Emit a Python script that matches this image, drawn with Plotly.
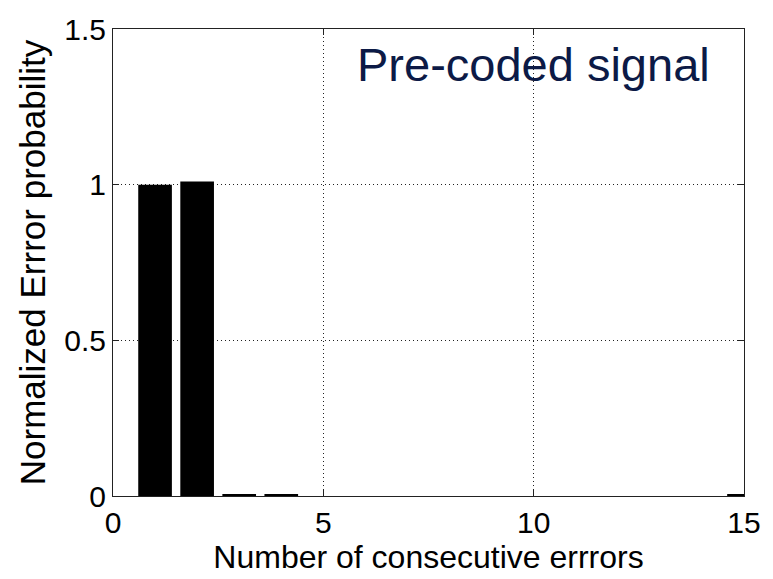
import plotly.graph_objects as go

# Data
run_length = list(range(1, 16))
norm_error_prob = [1.0, 1.01, 0.006, 0.006, 0, 0, 0, 0, 0, 0, 0, 0, 0, 0, 0.006]
x_ticks = [0, 5, 10, 15]
y_ticks = [0, 0.5, 1, 1.5]
x_title = "Number of consecutive errrors"
y_title = "Normalized Errror probability"
label_text = "Pre-coded signal"

FONT = "Liberation Sans, Arial, sans-serif"

fig = go.Figure()
fig.add_trace(go.Bar(
    x=run_length, y=norm_error_prob, width=0.8,
    marker=dict(color="black", line=dict(width=0)),
    showlegend=False,
))

axis_common = dict(
    showline=True, linecolor="#222", linewidth=1, mirror="ticks",
    ticks="inside", ticklen=6, tickcolor="#222",
    showgrid=True, gridcolor="#222", griddash="1px,3px", gridwidth=1,
    zeroline=False,
    tickfont=dict(family=FONT, size=30, color="black"),
)

fig.update_xaxes(range=[0, 15], tickvals=x_ticks, ticktext=[str(v) for v in x_ticks],
                 title=dict(text=x_title, font=dict(family=FONT, size=32, color="black"), standoff=6),
                 **axis_common)
fig.update_yaxes(range=[0, 1.5], tickvals=y_ticks, ticktext=["0", "0.5", "1", "1.5"],
                 title=dict(text=y_title, font=dict(family=FONT, size=35, color="black"), standoff=8),
                 **axis_common)

fig.add_annotation(x=0.667, y=0.925, xref="paper", yref="paper",
                   text=label_text, showarrow=False,
                   font=dict(family=FONT, size=47, color="#0c1a46"),
                   xanchor="center", yanchor="middle")

fig.update_layout(
    width=773, height=579,
    margin=dict(l=113, r=28, t=19, b=76),
    plot_bgcolor="white", paper_bgcolor="white",
    bargap=0.2,
)

fig.write_html("out.html")
